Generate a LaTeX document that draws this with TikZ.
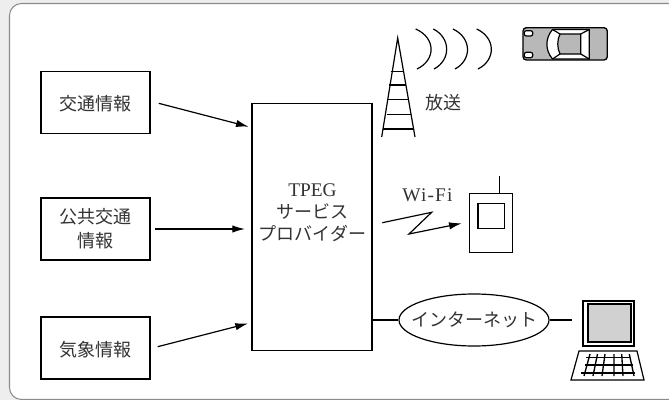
\documentclass[tikz,border=0pt]{standalone}
\usepackage{fontspec}
\setmainfont{Liberation Serif}
\newfontfamily\cjk{Noto Sans CJK JP}[Scale=1]
\newfontfamily\latinsp{Liberation Serif}[LetterSpace=6]
\newcommand\dn[1]{\raisebox{-1.2pt}[\height][\depth]{#1}}
\usetikzlibrary{arrows.meta,shapes.geometric}
\tikzset{
 x=0.75pt,y=-0.75pt,
 ln/.style={line width=0.9pt,black},
 box/.style={draw=black,line width=0.85pt,fill=white,inner sep=0pt,align=center,text=black!80,font=\cjk\fontsize{13.5pt}{18pt}\selectfont},
 lab/.style={text=black!80,inner sep=0pt,align=center,font=\cjk\fontsize{13.5pt}{18pt}\selectfont},
 arr/.style={ln,-{Latex[length=9.5pt,width=5.5pt]}},
}
\begin{document}
\begin{tikzpicture}
\useasboundingbox (0,0) rectangle (669,400);
\fill[black!6.5] (0,0) rectangle (669,400);
\draw[draw=black!45,line width=0.8pt,fill=white,rounded corners=9pt] (9.5,3.5) rectangle (680,399.5);
\node[box,minimum width=81.75pt,minimum height=47pt] (traffic) at (95.5,102.5) {\dn{交通情報}};
\node[box,minimum width=81.75pt,minimum height=46.5pt] (transit) at (95.5,229) {公共交通\\情報};
\node[box,minimum width=81.75pt,minimum height=46.5pt] (weather) at (95.5,348) {\dn{気象情報}};
\node[box,minimum width=90pt,minimum height=185pt] (tpeg) at (312,227) {};
\node[lab,font=\cjk\fontsize{13.5pt}{16.5pt}\selectfont] (tpegtext) at (312.5,212.5) {{\fontspec{Liberation Serif}\fontsize{14.5pt}{16.5pt}\selectfont TPEG}\\サービス\\プロバイダー};
\coordinate (a1s) at (158.7,103.3); \coordinate (a1e) at (248.7,126.7);
\coordinate (a2s) at (155,229); \coordinate (a2e) at (245,229);
\coordinate (a3s) at (157.7,346.7); \coordinate (a3e) at (248,323.5);
\draw[arr] (a1s)--(a1e);
\draw[arr] (a2s)--(a2e);
\draw[arr] (a3s)--(a3e);
% tower
\draw[ln] (381.7,137) -- (397.7,38) -- (415,137);
\draw[ln] (390.7,71.7)--(403.5,71.7) (389,85)--(405.5,85) (387,99.7)--(408,99.7) (386.7,114.7)--(411,114.7) (383,129)--(413.5,129);
\draw[ln] (415.7,29) .. controls (436,38) and (436,60) .. (417,69);
\draw[ln] (433.3,29) .. controls (451,38) and (451,60) .. (434,69);
\draw[ln] (453,29) .. controls (472,38) and (472,60) .. (455,69);
\draw[ln] (476.7,29) .. controls (496,38) and (496,60) .. (478,69);
\node[lab] (broadcast) at (443,102.5) {放送};
% car
\draw[line width=1pt,fill=black!28,rounded corners=2.5pt] (523,27.7) rectangle (607.3,60);
\draw[ln,fill=white,rounded corners=1.5pt] (524.3,30.7)rectangle(532.7,36);
\draw[ln,fill=white,rounded corners=1.5pt] (524.3,52.3)rectangle(532.7,57.7);
\draw[ln,fill=white] (552.5,29.5) -- (589.3,29.5) -- (589.3,59) -- (552.5,59) .. controls (545,50) and (545,38.5) .. (552.5,29.5);
\draw[ln,fill=black!28] (560,34) -- (580.7,34) -- (580.7,54) -- (560,54) .. controls (557,48) and (557,40) .. (560,34);
\draw[ln] (552.5,29.5)--(560,34) (552.5,59)--(560,54) (589.3,29.5)--(580.7,34) (589.3,59)--(580.7,54);
% wifi
\node[lab,font=\latinsp\fontsize{14.5pt}{16pt}\selectfont,anchor=base] (wifi) at (427.5,201.7) {Wi-Fi};
\coordinate (z0) at (382.3,222.7); \coordinate (z1) at (431.7,212.3); \coordinate (z2) at (409,234); \coordinate (z3) at (461.7,223.3);
\draw[ln,-{Latex[length=9.5pt,width=5.5pt]}] (z0)--(z1)--(z2)--(z3);
% phone
\node[draw=black,line width=0.9pt,minimum width=32pt,minimum height=44pt,inner sep=0pt] (phone) at (491,223) {};
\node[draw=black,line width=0.9pt,minimum width=20pt,minimum height=19.2pt,inner sep=0pt] (screen) at (491.3,216) {};
\coordinate (ant) at (499.3,176);
\draw[line width=1.2pt] (ant) -- (ant |- phone.north);
% internet
\node[ellipse,draw=black,line width=0.9pt,minimum width=112.5pt,minimum height=39pt,inner sep=0pt] (net) at (474,320) {};
\node[lab] (nettext) at (474.5,320) {インターネット};
\draw[ln] (tpeg.east |- net.west) -- (net.west);
\coordinate (pcl) at (572,320);
\draw[ln] (net.east) -- (pcl);
% pc
\draw[ln,fill=white] (583,301) rectangle (634,346);
\draw[ln,fill=black!18] (588,304) rectangle (631,342);
\draw[ln] (571,380) -- (579,351) -- (637,351) -- (644,380) -- cycle;
\draw[line width=1pt] (590,354)--(584,376) (597.5,354)--(593,376) (605,354)--(602,376) (614,354)--(614,376) (621.7,354)--(623,376) (629.3,354)--(634,376);
\draw[line width=1pt] (586,357.7)--(630,357.7) (585,365)--(633,365) (581,373)--(635,373);
\end{tikzpicture}
\end{document}
